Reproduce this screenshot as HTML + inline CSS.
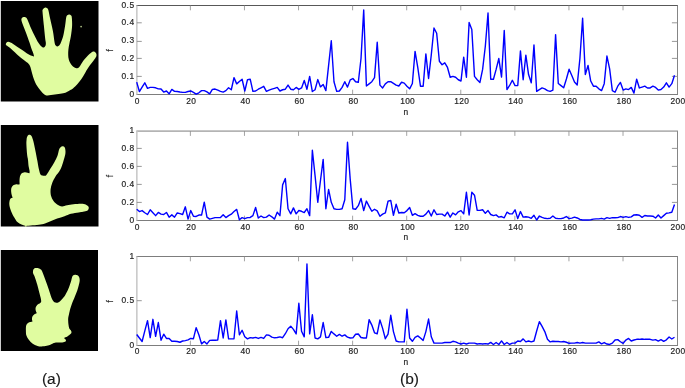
<!DOCTYPE html>
<html><head><meta charset="utf-8"><style>
html,body{margin:0;padding:0;background:#fff;}
body{width:685px;height:388px;overflow:hidden;position:relative;}
svg{position:absolute;left:0;top:0;will-change:transform;}
.t{font-family:"Liberation Sans",sans-serif;font-size:8.4px;fill:#262626;stroke:#262626;stroke-width:0.2px;}
.lab{font-family:"Liberation Sans",sans-serif;font-size:15.5px;fill:#1a1a1a;}
</style></head><body>
<svg width="685" height="388" viewBox="0 0 685 388">
<rect x="0.8" y="1.0" width="97.7" height="100.5" fill="#000"/>
<rect x="0.8" y="125.0" width="97.7" height="101.5" fill="#000"/>
<rect x="0.8" y="250.0" width="97.2" height="101.0" fill="#000"/>
<path d="M5.80,44.30C5.80,43.78 6.20,42.92 6.60,42.50C7.00,42.08 7.55,41.78 8.20,41.80C8.85,41.82 9.62,42.20 10.50,42.60C11.38,43.00 11.82,43.13 13.50,44.20C15.18,45.27 18.12,47.33 20.60,49.00C23.08,50.67 26.42,53.03 28.40,54.20C30.38,55.37 31.57,55.67 32.50,56.00C33.43,56.33 33.95,56.87 34.00,56.20C34.05,55.53 33.20,53.20 32.80,52.00C32.40,50.80 32.15,50.58 31.60,49.00C31.05,47.42 30.47,45.30 29.50,42.50C28.53,39.70 26.95,35.28 25.80,32.20C24.65,29.12 23.32,25.93 22.60,24.00C21.88,22.07 21.67,21.50 21.50,20.60C21.33,19.70 21.27,19.18 21.60,18.60C21.93,18.02 22.80,17.30 23.50,17.10C24.20,16.90 25.17,17.03 25.80,17.40C26.43,17.77 26.33,17.27 27.30,19.30C28.27,21.33 29.92,25.95 31.60,29.60C33.28,33.25 35.75,38.38 37.40,41.20C39.05,44.02 40.43,45.47 41.50,46.50C42.57,47.53 43.12,47.57 43.80,47.40C44.48,47.23 45.27,46.32 45.60,45.50C45.93,44.68 45.87,43.63 45.80,42.50C45.73,41.37 45.52,41.48 45.20,38.70C44.88,35.92 44.33,30.17 43.90,25.80C43.47,21.43 42.78,15.22 42.60,12.50C42.42,9.78 42.43,10.30 42.80,9.50C43.17,8.70 44.07,7.92 44.80,7.70C45.53,7.48 46.60,7.77 47.20,8.20C47.80,8.63 47.88,8.45 48.40,10.30C48.92,12.15 49.55,15.87 50.30,19.30C51.05,22.73 52.18,27.03 52.90,30.90C53.62,34.77 54.12,40.05 54.60,42.50C55.08,44.95 55.32,44.93 55.80,45.60C56.28,46.27 56.90,46.55 57.50,46.50C58.10,46.45 58.85,45.92 59.40,45.30C59.95,44.68 60.17,44.33 60.80,42.80C61.43,41.27 62.48,38.93 63.20,36.10C63.92,33.27 64.60,28.90 65.10,25.80C65.60,22.70 65.83,19.25 66.20,17.50C66.57,15.75 66.80,15.78 67.30,15.30C67.80,14.82 68.57,14.57 69.20,14.60C69.83,14.63 70.67,15.02 71.10,15.50C71.53,15.98 71.63,15.78 71.80,17.50C71.97,19.22 72.25,22.70 72.10,25.80C71.95,28.90 71.35,33.15 70.90,36.10C70.45,39.05 69.82,41.27 69.40,43.50C68.98,45.73 68.60,47.58 68.40,49.50C68.20,51.42 68.13,53.33 68.20,55.00C68.27,56.67 68.33,57.97 68.80,59.50C69.27,61.03 70.05,62.87 71.00,64.20C71.95,65.53 73.53,66.83 74.50,67.50C75.47,68.17 76.00,68.28 76.80,68.20C77.60,68.12 78.18,68.27 79.30,67.00C80.42,65.73 81.93,62.63 83.50,60.60C85.07,58.57 87.20,56.28 88.70,54.80C90.20,53.32 91.52,52.20 92.50,51.70C93.48,51.20 93.98,51.50 94.60,51.80C95.22,52.10 95.90,52.80 96.20,53.50C96.50,54.20 96.68,55.03 96.40,56.00C96.12,56.97 95.78,57.45 94.50,59.30C93.22,61.15 90.32,64.73 88.70,67.10C87.08,69.47 85.98,71.57 84.80,73.50C83.62,75.43 82.78,76.98 81.60,78.70C80.42,80.42 79.10,82.20 77.70,83.80C76.30,85.40 74.48,87.22 73.20,88.30C71.92,89.38 71.13,89.65 70.00,90.30C68.87,90.95 67.77,91.65 66.40,92.20C65.03,92.75 63.73,93.20 61.80,93.60C59.87,94.00 57.18,94.30 54.80,94.60C52.42,94.90 49.23,95.43 47.50,95.40C45.77,95.37 45.60,95.27 44.40,94.40C43.20,93.53 41.67,91.87 40.30,90.20C38.93,88.53 37.37,86.53 36.20,84.40C35.03,82.27 34.07,79.53 33.30,77.40C32.53,75.27 32.08,73.33 31.60,71.60C31.12,69.87 30.95,68.33 30.40,67.00C29.85,65.67 29.28,64.67 28.30,63.60C27.32,62.53 26.42,62.17 24.50,60.60C22.58,59.03 19.30,56.37 16.80,54.20C14.30,52.03 11.20,49.03 9.50,47.60C7.80,46.17 7.22,46.15 6.60,45.60C5.98,45.05 5.80,44.82 5.80,44.30Z" fill="#e0fca0"/>
<path d="M27.10,137.00C27.40,136.25 27.85,135.35 28.40,135.00C28.95,134.65 29.83,134.63 30.40,134.90C30.97,135.17 31.28,135.45 31.80,136.60C32.32,137.75 32.90,139.43 33.50,141.80C34.10,144.17 34.75,147.58 35.40,150.80C36.05,154.02 36.83,158.10 37.40,161.10C37.97,164.10 38.30,166.62 38.80,168.80C39.30,170.98 39.78,173.07 40.40,174.20C41.02,175.33 41.87,175.33 42.50,175.60C43.13,175.87 43.55,175.90 44.20,175.80C44.85,175.70 45.38,176.17 46.40,175.00C47.42,173.83 49.00,170.90 50.30,168.80C51.60,166.70 53.02,164.55 54.20,162.40C55.38,160.25 56.58,158.05 57.40,155.90C58.22,153.75 58.57,150.95 59.10,149.50C59.63,148.05 60.02,147.73 60.60,147.20C61.18,146.67 61.93,146.28 62.60,146.30C63.27,146.32 64.15,146.77 64.60,147.30C65.05,147.83 65.17,148.48 65.30,149.50C65.43,150.52 65.65,151.68 65.40,153.40C65.15,155.12 64.48,157.45 63.80,159.80C63.12,162.15 62.18,165.38 61.30,167.50C60.42,169.62 59.47,171.02 58.50,172.50C57.53,173.98 56.55,174.67 55.50,176.40C54.45,178.13 53.02,180.75 52.20,182.90C51.38,185.05 50.80,187.15 50.60,189.30C50.40,191.45 50.52,193.87 51.00,195.80C51.48,197.73 52.33,199.37 53.50,200.90C54.67,202.43 56.58,204.08 58.00,205.00C59.42,205.92 60.48,206.35 62.00,206.40C63.52,206.45 65.18,205.67 67.10,205.30C69.02,204.93 70.93,204.45 73.50,204.20C76.07,203.95 80.35,203.67 82.50,203.80C84.65,203.93 85.42,204.53 86.40,205.00C87.38,205.47 88.02,206.00 88.40,206.60C88.78,207.20 88.90,207.90 88.70,208.60C88.50,209.30 88.15,210.27 87.20,210.80C86.25,211.33 84.42,211.52 83.00,211.80C81.58,212.08 80.72,212.17 78.70,212.50C76.68,212.83 73.27,213.18 70.90,213.80C68.53,214.42 66.78,215.42 64.50,216.20C62.22,216.98 59.43,217.68 57.20,218.50C54.97,219.32 53.13,220.28 51.10,221.10C49.07,221.92 47.05,222.78 45.00,223.40C42.95,224.02 41.18,224.45 38.80,224.80C36.42,225.15 32.92,225.33 30.70,225.50C28.48,225.67 27.03,225.95 25.50,225.80C23.97,225.65 22.85,225.22 21.50,224.60C20.15,223.98 18.60,223.28 17.40,222.10C16.20,220.92 15.33,219.28 14.30,217.50C13.27,215.72 12.02,213.45 11.20,211.40C10.38,209.35 9.67,206.97 9.40,205.20C9.13,203.43 9.40,201.90 9.60,200.80C9.80,199.70 10.12,199.10 10.60,198.60C11.08,198.10 12.30,198.37 12.50,197.80C12.70,197.23 12.02,196.17 11.80,195.20C11.58,194.23 11.28,193.17 11.20,192.00C11.12,190.83 11.00,189.28 11.30,188.20C11.60,187.12 12.17,186.15 13.00,185.50C13.83,184.85 15.23,184.48 16.30,184.30C17.37,184.12 18.87,184.95 19.40,184.40C19.93,183.85 19.42,182.27 19.50,181.00C19.58,179.73 19.57,178.03 19.90,176.80C20.23,175.57 20.72,174.35 21.50,173.60C22.28,172.85 23.60,172.45 24.60,172.30C25.60,172.15 26.70,172.55 27.50,172.70C28.30,172.85 29.07,173.57 29.40,173.20C29.73,172.83 29.63,171.67 29.50,170.50C29.37,169.33 28.85,167.95 28.60,166.20C28.35,164.45 28.25,161.93 28.00,160.00C27.75,158.07 27.37,157.22 27.10,154.60C26.83,151.98 26.48,146.82 26.40,144.30C26.32,141.78 26.48,140.72 26.60,139.50C26.72,138.28 26.80,137.75 27.10,137.00Z" fill="#e0fca0"/>
<path d="M33.00,271.60C33.05,271.00 33.02,270.18 33.40,269.60C33.78,269.02 34.47,268.33 35.30,268.10C36.13,267.87 37.48,267.95 38.40,268.20C39.32,268.45 40.17,269.03 40.80,269.60C41.43,270.17 41.40,269.77 42.20,271.60C43.00,273.43 44.50,277.60 45.60,280.60C46.70,283.60 47.83,286.80 48.80,289.60C49.77,292.40 50.63,295.47 51.40,297.40C52.17,299.33 52.72,300.33 53.40,301.20C54.08,302.07 54.80,302.35 55.50,302.60C56.20,302.85 56.88,302.88 57.60,302.70C58.32,302.52 59.00,302.17 59.80,301.50C60.60,300.83 61.48,299.80 62.40,298.70C63.32,297.60 64.30,296.57 65.30,294.90C66.30,293.23 67.45,290.93 68.40,288.70C69.35,286.47 70.40,283.35 71.00,281.50C71.60,279.65 71.67,278.58 72.00,277.60C72.33,276.62 72.48,276.08 73.00,275.60C73.52,275.12 74.35,274.77 75.10,274.70C75.85,274.63 76.82,274.78 77.50,275.20C78.18,275.62 78.83,276.32 79.20,277.20C79.57,278.08 79.78,279.10 79.70,280.50C79.62,281.90 79.12,283.88 78.70,285.60C78.28,287.32 77.80,289.08 77.20,290.80C76.60,292.52 75.80,294.18 75.10,295.90C74.40,297.62 73.60,299.58 73.00,301.10C72.40,302.62 71.97,303.68 71.50,305.00C71.03,306.32 70.62,307.45 70.20,309.00C69.78,310.55 69.33,312.80 69.00,314.30C68.67,315.80 68.33,316.85 68.20,318.00C68.07,319.15 68.15,320.07 68.20,321.20C68.25,322.33 68.32,323.60 68.50,324.80C68.68,326.00 68.92,327.48 69.30,328.40C69.68,329.32 70.43,329.67 70.80,330.30C71.17,330.93 71.55,331.57 71.50,332.20C71.45,332.83 71.18,333.40 70.50,334.10C69.82,334.80 68.48,335.75 67.40,336.40C66.32,337.05 64.33,337.53 64.00,338.00C63.67,338.47 65.08,338.70 65.40,339.20C65.72,339.70 66.25,340.48 65.90,341.00C65.55,341.52 64.60,342.03 63.30,342.30C62.00,342.57 59.65,342.50 58.10,342.60C56.55,342.70 55.20,342.60 54.00,342.90C52.80,343.20 52.10,343.93 50.90,344.40C49.70,344.87 48.35,345.37 46.80,345.70C45.25,346.03 43.15,346.37 41.60,346.40C40.05,346.43 39.03,346.40 37.50,345.90C35.97,345.40 33.85,344.43 32.40,343.40C30.95,342.37 29.80,341.00 28.80,339.70C27.80,338.40 26.88,337.13 26.40,335.60C25.92,334.07 25.93,332.17 25.90,330.50C25.87,328.83 25.85,326.85 26.20,325.60C26.55,324.35 27.28,323.58 28.00,323.00C28.72,322.42 29.77,322.33 30.50,322.10C31.23,321.87 32.15,322.03 32.40,321.60C32.65,321.17 32.02,320.30 32.00,319.50C31.98,318.70 31.93,317.65 32.30,316.80C32.67,315.95 33.48,315.00 34.20,314.40C34.92,313.80 36.32,313.77 36.60,313.20C36.88,312.63 36.07,311.88 35.90,311.00C35.73,310.12 35.35,308.93 35.60,307.90C35.85,306.87 36.62,305.63 37.40,304.80C38.18,303.97 39.67,303.50 40.30,302.90C40.93,302.30 41.15,302.10 41.20,301.20C41.25,300.30 40.93,299.00 40.60,297.50C40.27,296.00 39.77,294.37 39.20,292.20C38.63,290.03 37.95,287.07 37.20,284.50C36.45,281.93 35.38,278.68 34.70,276.80C34.02,274.92 33.38,274.07 33.10,273.20C32.82,272.33 32.95,272.20 33.00,271.60Z" fill="#e0fca0"/>
<path d="M24.6,225.2 L27.0,225.2 L26.2,226.8 L25.4,226.8 Z" fill="#e0fca0"/>
<circle cx="81.1" cy="26.6" r="0.9" fill="#aabb82"/>
<line x1="136.35" y1="5.50" x2="678.00" y2="5.50" stroke="#585858" stroke-width="1.00"/>
<line x1="136.35" y1="94.50" x2="678.00" y2="94.50" stroke="#7d7d7d" stroke-width="1"/>
<line x1="136.85" y1="5.50" x2="136.85" y2="94.50" stroke="#c6c6c6" stroke-width="1.5"/>
<line x1="677.50" y1="5.50" x2="677.50" y2="94.50" stroke="#858585" stroke-width="1"/>
<text x="137.25" y="103.95" text-anchor="middle" class="t" letter-spacing="0.3">0</text>
<line x1="190.38" y1="94.50" x2="190.38" y2="89.70" stroke="#8c8c8c" stroke-width="0.8"/>
<line x1="190.38" y1="5.50" x2="190.38" y2="10.30" stroke="#8c8c8c" stroke-width="0.8"/>
<text x="191.33" y="103.95" text-anchor="middle" class="t" letter-spacing="0.3">20</text>
<line x1="244.46" y1="94.50" x2="244.46" y2="89.70" stroke="#8c8c8c" stroke-width="0.8"/>
<line x1="244.46" y1="5.50" x2="244.46" y2="10.30" stroke="#8c8c8c" stroke-width="0.8"/>
<text x="245.41" y="103.95" text-anchor="middle" class="t" letter-spacing="0.3">40</text>
<line x1="298.54" y1="94.50" x2="298.54" y2="89.70" stroke="#8c8c8c" stroke-width="0.8"/>
<line x1="298.54" y1="5.50" x2="298.54" y2="10.30" stroke="#8c8c8c" stroke-width="0.8"/>
<text x="299.49" y="103.95" text-anchor="middle" class="t" letter-spacing="0.3">60</text>
<line x1="352.62" y1="94.50" x2="352.62" y2="89.70" stroke="#8c8c8c" stroke-width="0.8"/>
<line x1="352.62" y1="5.50" x2="352.62" y2="10.30" stroke="#8c8c8c" stroke-width="0.8"/>
<text x="353.57" y="103.95" text-anchor="middle" class="t" letter-spacing="0.3">80</text>
<line x1="406.70" y1="94.50" x2="406.70" y2="89.70" stroke="#8c8c8c" stroke-width="0.8"/>
<line x1="406.70" y1="5.50" x2="406.70" y2="10.30" stroke="#8c8c8c" stroke-width="0.8"/>
<text x="407.65" y="103.95" text-anchor="middle" class="t" letter-spacing="0.3">100</text>
<line x1="460.78" y1="94.50" x2="460.78" y2="89.70" stroke="#8c8c8c" stroke-width="0.8"/>
<line x1="460.78" y1="5.50" x2="460.78" y2="10.30" stroke="#8c8c8c" stroke-width="0.8"/>
<text x="461.73" y="103.95" text-anchor="middle" class="t" letter-spacing="0.3">120</text>
<line x1="514.86" y1="94.50" x2="514.86" y2="89.70" stroke="#8c8c8c" stroke-width="0.8"/>
<line x1="514.86" y1="5.50" x2="514.86" y2="10.30" stroke="#8c8c8c" stroke-width="0.8"/>
<text x="515.81" y="103.95" text-anchor="middle" class="t" letter-spacing="0.3">140</text>
<line x1="568.94" y1="94.50" x2="568.94" y2="89.70" stroke="#8c8c8c" stroke-width="0.8"/>
<line x1="568.94" y1="5.50" x2="568.94" y2="10.30" stroke="#8c8c8c" stroke-width="0.8"/>
<text x="569.89" y="103.95" text-anchor="middle" class="t" letter-spacing="0.3">160</text>
<line x1="623.02" y1="94.50" x2="623.02" y2="89.70" stroke="#8c8c8c" stroke-width="0.8"/>
<line x1="623.02" y1="5.50" x2="623.02" y2="10.30" stroke="#8c8c8c" stroke-width="0.8"/>
<text x="623.97" y="103.95" text-anchor="middle" class="t" letter-spacing="0.3">180</text>
<text x="678.05" y="103.95" text-anchor="middle" class="t" letter-spacing="0.3">200</text>
<text x="134.50" y="97.01" text-anchor="end" class="t" letter-spacing="0.45">0</text>
<line x1="136.85" y1="76.40" x2="141.75" y2="76.40" stroke="#8c8c8c" stroke-width="0.9"/>
<line x1="677.50" y1="76.40" x2="671.90" y2="76.40" stroke="#8c8c8c" stroke-width="0.9"/>
<text x="134.50" y="78.95" text-anchor="end" class="t" letter-spacing="0.45">0.1</text>
<line x1="136.85" y1="58.40" x2="141.75" y2="58.40" stroke="#8c8c8c" stroke-width="0.9"/>
<line x1="677.50" y1="58.40" x2="671.90" y2="58.40" stroke="#8c8c8c" stroke-width="0.9"/>
<text x="134.50" y="61.05" text-anchor="end" class="t" letter-spacing="0.45">0.2</text>
<line x1="136.85" y1="41.40" x2="141.75" y2="41.40" stroke="#8c8c8c" stroke-width="0.9"/>
<line x1="677.50" y1="41.40" x2="671.90" y2="41.40" stroke="#8c8c8c" stroke-width="0.9"/>
<text x="134.50" y="43.30" text-anchor="end" class="t" letter-spacing="0.45">0.3</text>
<line x1="136.85" y1="22.80" x2="141.75" y2="22.80" stroke="#8c8c8c" stroke-width="0.9"/>
<line x1="677.50" y1="22.80" x2="671.90" y2="22.80" stroke="#8c8c8c" stroke-width="0.9"/>
<text x="134.50" y="25.25" text-anchor="end" class="t" letter-spacing="0.45">0.4</text>
<text x="134.50" y="8.01" text-anchor="end" class="t" letter-spacing="0.45">0.5</text>
<text x="405.90" y="114.70" text-anchor="middle" class="t">n</text>
<text x="0" y="0" text-anchor="middle" class="t" transform="translate(113.4,50.30) rotate(-90)" style="font-size:8.5px">f</text>
<polyline points="136.70,82.08 139.40,91.53 142.10,87.07 144.81,82.79 147.51,88.32 150.21,87.42 152.91,87.42 155.62,87.78 158.32,88.85 161.02,89.03 163.72,92.06 166.43,90.99 169.13,93.84 171.83,89.39 174.53,91.35 177.24,91.53 179.94,92.06 182.64,92.42 185.34,92.42 188.05,91.53 190.75,90.99 193.45,92.42 196.16,94.20 198.86,92.77 201.56,90.63 204.26,90.63 206.96,91.88 209.67,93.84 212.37,89.39 215.07,89.03 217.77,90.10 220.48,91.35 223.18,92.06 225.88,90.63 228.58,87.78 231.29,89.74 233.99,77.62 236.69,83.86 239.39,81.54 242.10,79.22 244.80,90.99 247.50,79.58 250.20,79.22 252.91,91.35 255.61,90.99 258.31,89.21 261.01,87.78 263.72,86.35 266.42,91.35 269.12,90.10 271.82,89.21 274.53,88.32 277.23,87.42 279.93,90.99 282.63,89.74 285.34,89.21 288.04,85.11 290.74,89.21 293.44,89.74 296.15,87.42 298.85,89.39 301.55,87.96 304.25,80.47 306.96,89.21 309.66,76.37 312.36,91.53 315.06,89.74 317.77,79.58 320.47,86.89 323.17,84.57 325.88,90.63 328.58,65.67 331.28,40.71 333.98,81.72 336.69,91.35 339.39,90.99 342.09,87.42 344.79,81.72 347.50,87.07 350.20,79.94 352.90,78.51 355.60,81.72 358.31,82.25 361.01,58.54 363.71,10.04 366.41,86.00 369.12,83.86 371.82,81.72 374.52,77.62 377.22,42.31 379.93,85.11 382.63,87.96 385.33,83.86 388.03,81.72 390.74,81.72 393.44,83.32 396.14,85.11 398.84,86.00 401.55,82.25 404.25,83.15 406.95,86.18 409.65,88.85 412.36,83.50 415.06,51.41 417.76,67.45 420.46,86.18 423.17,86.18 425.87,53.90 428.57,78.51 431.27,54.97 433.98,28.05 436.68,33.22 439.38,61.21 442.08,64.78 444.79,62.82 447.49,67.45 450.19,77.26 452.89,76.37 455.60,77.26 458.30,79.76 461.00,81.01 463.70,57.11 466.41,77.26 469.11,22.52 471.81,29.48 474.51,76.37 477.22,79.76 479.92,82.43 482.62,69.42 485.32,46.24 488.02,13.07 490.73,79.22 493.43,79.22 496.13,69.42 498.83,58.54 501.54,77.08 504.24,30.55 506.94,89.56 509.64,85.46 512.35,80.29 515.05,85.64 517.75,85.46 520.45,50.87 523.16,79.76 525.86,55.15 528.56,74.59 531.26,82.79 533.97,44.99 536.67,91.35 539.37,89.56 542.08,87.96 544.78,88.85 547.48,90.63 550.18,91.35 552.88,90.10 555.59,34.65 558.29,83.50 560.99,85.64 563.69,87.78 566.40,79.04 569.10,69.24 571.80,75.48 574.50,82.08 577.21,84.93 579.91,58.54 582.61,18.24 585.32,74.59 588.02,65.49 590.72,81.01 593.42,86.18 596.12,86.18 598.83,88.85 601.53,90.63 604.23,83.68 606.93,56.04 609.64,68.88 612.34,90.63 615.04,92.24 617.75,86.18 620.45,82.43 623.15,90.10 625.85,88.85 628.56,89.56 631.26,87.42 633.96,93.13 636.66,79.22 639.37,87.96 642.07,87.07 644.77,86.18 647.47,87.96 650.17,87.96 652.88,86.18 655.58,87.42 658.28,90.10 660.98,89.56 663.69,87.07 666.39,82.79 669.09,87.07 671.80,83.68 674.50,75.30" fill="none" stroke="#0000ff" stroke-width="1.4" stroke-linejoin="round"/>
<line x1="136.35" y1="131.10" x2="678.00" y2="131.10" stroke="#b4b4b4" stroke-width="1.70"/>
<line x1="136.35" y1="220.50" x2="678.00" y2="220.50" stroke="#7d7d7d" stroke-width="1"/>
<line x1="136.85" y1="131.10" x2="136.85" y2="220.50" stroke="#c6c6c6" stroke-width="1.5"/>
<line x1="677.50" y1="131.10" x2="677.50" y2="220.50" stroke="#858585" stroke-width="1"/>
<text x="137.25" y="229.85" text-anchor="middle" class="t" letter-spacing="0.3">0</text>
<line x1="190.38" y1="220.50" x2="190.38" y2="215.70" stroke="#8c8c8c" stroke-width="0.8"/>
<line x1="190.38" y1="131.10" x2="190.38" y2="135.90" stroke="#8c8c8c" stroke-width="0.8"/>
<text x="191.33" y="229.85" text-anchor="middle" class="t" letter-spacing="0.3">20</text>
<line x1="244.46" y1="220.50" x2="244.46" y2="215.70" stroke="#8c8c8c" stroke-width="0.8"/>
<line x1="244.46" y1="131.10" x2="244.46" y2="135.90" stroke="#8c8c8c" stroke-width="0.8"/>
<text x="245.41" y="229.85" text-anchor="middle" class="t" letter-spacing="0.3">40</text>
<line x1="298.54" y1="220.50" x2="298.54" y2="215.70" stroke="#8c8c8c" stroke-width="0.8"/>
<line x1="298.54" y1="131.10" x2="298.54" y2="135.90" stroke="#8c8c8c" stroke-width="0.8"/>
<text x="299.49" y="229.85" text-anchor="middle" class="t" letter-spacing="0.3">60</text>
<line x1="352.62" y1="220.50" x2="352.62" y2="215.70" stroke="#8c8c8c" stroke-width="0.8"/>
<line x1="352.62" y1="131.10" x2="352.62" y2="135.90" stroke="#8c8c8c" stroke-width="0.8"/>
<text x="353.57" y="229.85" text-anchor="middle" class="t" letter-spacing="0.3">80</text>
<line x1="406.70" y1="220.50" x2="406.70" y2="215.70" stroke="#8c8c8c" stroke-width="0.8"/>
<line x1="406.70" y1="131.10" x2="406.70" y2="135.90" stroke="#8c8c8c" stroke-width="0.8"/>
<text x="407.65" y="229.85" text-anchor="middle" class="t" letter-spacing="0.3">100</text>
<line x1="460.78" y1="220.50" x2="460.78" y2="215.70" stroke="#8c8c8c" stroke-width="0.8"/>
<line x1="460.78" y1="131.10" x2="460.78" y2="135.90" stroke="#8c8c8c" stroke-width="0.8"/>
<text x="461.73" y="229.85" text-anchor="middle" class="t" letter-spacing="0.3">120</text>
<line x1="514.86" y1="220.50" x2="514.86" y2="215.70" stroke="#8c8c8c" stroke-width="0.8"/>
<line x1="514.86" y1="131.10" x2="514.86" y2="135.90" stroke="#8c8c8c" stroke-width="0.8"/>
<text x="515.81" y="229.85" text-anchor="middle" class="t" letter-spacing="0.3">140</text>
<line x1="568.94" y1="220.50" x2="568.94" y2="215.70" stroke="#8c8c8c" stroke-width="0.8"/>
<line x1="568.94" y1="131.10" x2="568.94" y2="135.90" stroke="#8c8c8c" stroke-width="0.8"/>
<text x="569.89" y="229.85" text-anchor="middle" class="t" letter-spacing="0.3">160</text>
<line x1="623.02" y1="220.50" x2="623.02" y2="215.70" stroke="#8c8c8c" stroke-width="0.8"/>
<line x1="623.02" y1="131.10" x2="623.02" y2="135.90" stroke="#8c8c8c" stroke-width="0.8"/>
<text x="623.97" y="229.85" text-anchor="middle" class="t" letter-spacing="0.3">180</text>
<text x="678.05" y="229.85" text-anchor="middle" class="t" letter-spacing="0.3">200</text>
<text x="134.50" y="222.95" text-anchor="end" class="t" letter-spacing="0.45">0</text>
<line x1="136.85" y1="202.40" x2="141.75" y2="202.40" stroke="#8c8c8c" stroke-width="0.9"/>
<line x1="677.50" y1="202.40" x2="671.90" y2="202.40" stroke="#8c8c8c" stroke-width="0.9"/>
<text x="134.50" y="204.80" text-anchor="end" class="t" letter-spacing="0.45">0.2</text>
<line x1="136.85" y1="184.40" x2="141.75" y2="184.40" stroke="#8c8c8c" stroke-width="0.9"/>
<line x1="677.50" y1="184.40" x2="671.90" y2="184.40" stroke="#8c8c8c" stroke-width="0.9"/>
<text x="134.50" y="186.55" text-anchor="end" class="t" letter-spacing="0.45">0.4</text>
<line x1="136.85" y1="166.40" x2="141.75" y2="166.40" stroke="#8c8c8c" stroke-width="0.9"/>
<line x1="677.50" y1="166.40" x2="671.90" y2="166.40" stroke="#8c8c8c" stroke-width="0.9"/>
<text x="134.50" y="168.75" text-anchor="end" class="t" letter-spacing="0.45">0.6</text>
<line x1="136.85" y1="148.40" x2="141.75" y2="148.40" stroke="#8c8c8c" stroke-width="0.9"/>
<line x1="677.50" y1="148.40" x2="671.90" y2="148.40" stroke="#8c8c8c" stroke-width="0.9"/>
<text x="134.50" y="150.65" text-anchor="end" class="t" letter-spacing="0.45">0.8</text>
<text x="134.50" y="133.35" text-anchor="end" class="t" letter-spacing="0.45">1</text>
<text x="405.90" y="240.30" text-anchor="middle" class="t">n</text>
<text x="0" y="0" text-anchor="middle" class="t" transform="translate(113.4,176.10) rotate(-90)" style="font-size:8.5px">f</text>
<polyline points="136.70,209.24 139.40,211.56 142.10,210.58 144.81,212.71 147.51,214.49 150.21,209.78 152.91,212.71 155.62,215.65 158.32,212.45 161.02,214.14 163.72,214.49 166.43,212.45 169.13,217.16 171.83,214.85 174.53,217.16 177.24,212.98 179.94,213.69 182.64,214.49 185.34,206.84 188.05,219.12 190.75,210.58 193.45,216.27 196.16,216.45 198.86,215.03 201.56,215.03 204.26,202.21 206.96,217.16 209.67,219.12 212.37,218.32 215.07,217.61 217.77,217.61 220.48,217.61 223.18,214.85 225.88,217.61 228.58,215.65 231.29,214.14 233.99,211.56 236.69,209.42 239.39,219.74 242.10,217.61 244.80,218.59 247.50,217.61 250.20,217.43 252.91,215.65 255.61,207.46 258.31,217.96 261.01,216.01 263.72,217.61 266.42,217.16 269.12,215.03 271.82,216.81 274.53,219.12 277.23,212.18 279.93,215.65 282.63,184.86 285.34,178.54 288.04,208.71 290.74,213.87 293.44,207.91 296.15,213.87 298.85,210.49 301.55,211.29 304.25,212.53 306.96,208.71 309.66,215.65 312.36,150.23 315.06,175.60 317.77,202.30 320.47,180.50 323.17,159.40 325.88,208.71 328.58,189.48 331.28,202.30 333.98,208.71 336.69,209.42 339.39,209.42 342.09,208.71 344.79,199.72 347.50,142.31 350.20,179.16 352.90,208.71 355.60,209.24 358.31,205.68 361.01,198.47 363.71,210.58 366.41,201.05 369.12,206.31 371.82,211.29 374.52,209.24 377.22,210.93 379.93,216.27 382.63,214.14 385.33,212.98 388.03,201.23 390.74,200.43 393.44,215.29 396.14,204.26 398.84,212.98 401.55,212.45 404.25,212.71 406.95,210.58 409.65,207.46 412.36,215.29 415.06,213.69 417.76,215.29 420.46,216.27 423.17,216.27 425.87,214.14 428.57,210.58 431.27,216.01 433.98,209.78 436.68,214.49 439.38,214.14 442.08,214.14 444.79,216.01 447.49,212.18 450.19,217.16 452.89,212.98 455.60,214.85 458.30,211.82 461.00,210.58 463.70,213.87 466.41,192.24 469.11,215.03 471.81,192.24 474.51,195.18 477.22,210.40 479.92,210.40 482.62,209.78 485.32,213.34 488.02,210.58 490.73,214.49 493.43,215.65 496.13,214.85 498.83,217.16 501.54,216.54 504.24,217.79 506.94,212.18 509.64,213.87 512.35,213.87 515.05,209.78 517.75,218.59 520.45,211.56 523.16,217.16 525.86,216.81 528.56,217.16 531.26,218.32 533.97,215.29 536.67,220.01 539.37,216.01 542.08,217.43 544.78,218.32 547.48,218.59 550.18,218.32 552.88,216.01 555.59,218.32 558.29,218.59 560.99,218.59 563.69,217.96 566.40,216.54 569.10,218.59 571.80,218.14 574.50,217.16 577.21,217.96 579.91,219.48 582.61,220.01 585.32,220.01 588.02,220.01 590.72,219.74 593.42,219.12 596.12,218.85 598.83,218.85 601.53,218.32 604.23,219.12 606.93,217.61 609.64,218.32 612.34,217.61 615.04,217.79 617.75,217.61 620.45,216.54 623.15,217.34 625.85,216.63 628.56,217.43 631.26,216.81 633.96,214.94 636.66,214.76 639.37,215.20 642.07,217.34 644.77,215.47 647.47,216.01 650.17,216.01 652.88,216.18 655.58,217.96 658.28,215.03 660.98,217.96 663.69,215.65 666.39,213.25 669.09,212.89 671.80,212.27 674.50,204.44" fill="none" stroke="#0000ff" stroke-width="1.4" stroke-linejoin="round"/>
<line x1="136.35" y1="256.50" x2="678.00" y2="256.50" stroke="#7d7d7d" stroke-width="1.00"/>
<line x1="136.35" y1="345.50" x2="678.00" y2="345.50" stroke="#7d7d7d" stroke-width="1"/>
<line x1="136.85" y1="256.50" x2="136.85" y2="345.50" stroke="#c6c6c6" stroke-width="1.5"/>
<line x1="677.50" y1="256.50" x2="677.50" y2="345.50" stroke="#858585" stroke-width="1"/>
<text x="137.25" y="354.45" text-anchor="middle" class="t" letter-spacing="0.3">0</text>
<line x1="190.38" y1="345.50" x2="190.38" y2="340.70" stroke="#8c8c8c" stroke-width="0.8"/>
<line x1="190.38" y1="256.50" x2="190.38" y2="261.30" stroke="#8c8c8c" stroke-width="0.8"/>
<text x="191.33" y="354.45" text-anchor="middle" class="t" letter-spacing="0.3">20</text>
<line x1="244.46" y1="345.50" x2="244.46" y2="340.70" stroke="#8c8c8c" stroke-width="0.8"/>
<line x1="244.46" y1="256.50" x2="244.46" y2="261.30" stroke="#8c8c8c" stroke-width="0.8"/>
<text x="245.41" y="354.45" text-anchor="middle" class="t" letter-spacing="0.3">40</text>
<line x1="298.54" y1="345.50" x2="298.54" y2="340.70" stroke="#8c8c8c" stroke-width="0.8"/>
<line x1="298.54" y1="256.50" x2="298.54" y2="261.30" stroke="#8c8c8c" stroke-width="0.8"/>
<text x="299.49" y="354.45" text-anchor="middle" class="t" letter-spacing="0.3">60</text>
<line x1="352.62" y1="345.50" x2="352.62" y2="340.70" stroke="#8c8c8c" stroke-width="0.8"/>
<line x1="352.62" y1="256.50" x2="352.62" y2="261.30" stroke="#8c8c8c" stroke-width="0.8"/>
<text x="353.57" y="354.45" text-anchor="middle" class="t" letter-spacing="0.3">80</text>
<line x1="406.70" y1="345.50" x2="406.70" y2="340.70" stroke="#8c8c8c" stroke-width="0.8"/>
<line x1="406.70" y1="256.50" x2="406.70" y2="261.30" stroke="#8c8c8c" stroke-width="0.8"/>
<text x="407.65" y="354.45" text-anchor="middle" class="t" letter-spacing="0.3">100</text>
<line x1="460.78" y1="345.50" x2="460.78" y2="340.70" stroke="#8c8c8c" stroke-width="0.8"/>
<line x1="460.78" y1="256.50" x2="460.78" y2="261.30" stroke="#8c8c8c" stroke-width="0.8"/>
<text x="461.73" y="354.45" text-anchor="middle" class="t" letter-spacing="0.3">120</text>
<line x1="514.86" y1="345.50" x2="514.86" y2="340.70" stroke="#8c8c8c" stroke-width="0.8"/>
<line x1="514.86" y1="256.50" x2="514.86" y2="261.30" stroke="#8c8c8c" stroke-width="0.8"/>
<text x="515.81" y="354.45" text-anchor="middle" class="t" letter-spacing="0.3">140</text>
<line x1="568.94" y1="345.50" x2="568.94" y2="340.70" stroke="#8c8c8c" stroke-width="0.8"/>
<line x1="568.94" y1="256.50" x2="568.94" y2="261.30" stroke="#8c8c8c" stroke-width="0.8"/>
<text x="569.89" y="354.45" text-anchor="middle" class="t" letter-spacing="0.3">160</text>
<line x1="623.02" y1="345.50" x2="623.02" y2="340.70" stroke="#8c8c8c" stroke-width="0.8"/>
<line x1="623.02" y1="256.50" x2="623.02" y2="261.30" stroke="#8c8c8c" stroke-width="0.8"/>
<text x="623.97" y="354.45" text-anchor="middle" class="t" letter-spacing="0.3">180</text>
<text x="678.05" y="354.45" text-anchor="middle" class="t" letter-spacing="0.3">200</text>
<text x="134.50" y="347.60" text-anchor="end" class="t" letter-spacing="0.45">0</text>
<line x1="136.85" y1="300.70" x2="141.75" y2="300.70" stroke="#8c8c8c" stroke-width="0.9"/>
<line x1="677.50" y1="300.70" x2="671.90" y2="300.70" stroke="#8c8c8c" stroke-width="0.9"/>
<text x="134.50" y="303.01" text-anchor="end" class="t" letter-spacing="0.45">0.5</text>
<text x="134.50" y="258.95" text-anchor="end" class="t" letter-spacing="0.45">1</text>
<text x="405.90" y="365.00" text-anchor="middle" class="t">n</text>
<text x="0" y="0" text-anchor="middle" class="t" transform="translate(113.4,301.30) rotate(-90)" style="font-size:8.5px">f</text>
<polyline points="136.70,334.52 139.40,337.99 142.10,341.46 144.81,330.88 147.51,320.65 150.21,337.63 152.91,319.32 155.62,336.30 158.32,322.52 161.02,340.21 163.72,334.17 166.43,338.43 169.13,338.43 171.83,341.28 174.53,341.28 177.24,341.46 179.94,342.26 182.64,341.01 185.34,340.57 188.05,339.94 190.75,338.43 193.45,338.70 196.16,327.68 198.86,334.79 201.56,343.86 204.26,341.46 206.96,343.94 209.67,340.39 212.37,340.21 215.07,340.21 217.77,339.94 220.48,320.65 223.18,337.99 225.88,319.94 228.58,338.88 231.29,338.88 233.99,338.70 236.69,310.96 239.39,334.79 242.10,330.25 244.80,336.74 247.50,338.88 250.20,337.63 252.91,337.99 255.61,337.37 258.31,338.43 261.01,337.37 263.72,338.43 266.42,334.88 269.12,335.23 271.82,337.19 274.53,337.81 277.23,337.54 279.93,336.92 282.63,337.72 285.34,333.72 288.04,328.74 290.74,326.16 293.44,329.36 296.15,333.90 298.85,303.32 301.55,331.23 304.25,336.83 306.96,264.02 309.66,333.90 312.36,314.79 315.06,337.99 317.77,338.88 320.47,336.83 323.17,322.52 325.88,337.54 328.58,337.37 331.28,331.41 333.98,333.90 336.69,336.21 339.39,334.43 342.09,336.21 344.79,334.88 347.50,337.19 350.20,337.99 352.90,337.81 355.60,334.25 358.31,333.99 361.01,337.54 363.71,337.99 366.41,337.99 369.12,319.59 371.82,325.10 374.52,332.83 377.22,333.72 379.93,319.94 382.63,328.39 385.33,338.70 388.03,334.17 390.74,315.23 393.44,331.59 396.14,341.01 398.84,341.90 401.55,341.90 404.25,341.90 406.95,309.27 409.65,337.99 412.36,341.28 415.06,337.37 417.76,335.85 420.46,337.99 423.17,340.39 425.87,331.59 428.57,319.05 431.27,336.74 433.98,343.14 436.68,343.14 439.38,343.14 442.08,343.14 444.79,342.52 447.49,342.52 450.19,342.52 452.89,341.28 455.60,341.90 458.30,343.14 461.00,344.03 463.70,343.14 466.41,344.03 469.11,343.14 471.81,343.14 474.51,343.14 477.22,344.03 479.92,343.59 482.62,344.03 485.32,343.59 488.02,344.03 490.73,342.43 493.43,344.48 496.13,342.52 498.83,344.48 501.54,340.92 504.24,344.48 506.94,342.52 509.64,344.48 512.35,343.14 515.05,343.14 517.75,341.01 520.45,341.46 523.16,338.88 525.86,341.90 528.56,341.01 531.26,341.90 533.97,341.01 536.67,330.96 539.37,321.63 542.08,326.43 544.78,331.59 547.48,339.32 550.18,341.90 552.88,341.28 555.59,341.46 558.29,341.46 560.99,341.90 563.69,341.46 566.40,342.26 569.10,343.32 571.80,343.14 574.50,343.14 577.21,342.52 579.91,343.14 582.61,342.52 585.32,343.14 588.02,343.14 590.72,343.14 593.42,343.14 596.12,343.14 598.83,341.90 601.53,343.86 604.23,342.52 606.93,344.03 609.64,344.48 612.34,343.14 615.04,339.94 617.75,339.59 620.45,341.72 623.15,343.41 625.85,340.03 628.56,338.43 631.26,341.01 633.96,340.03 636.66,339.32 639.37,339.32 642.07,338.97 644.77,339.32 647.47,339.32 650.17,339.32 652.88,340.12 655.58,339.68 658.28,341.01 660.98,339.68 663.69,341.28 666.39,339.85 669.09,337.01 671.80,338.97 674.50,337.28" fill="none" stroke="#0000ff" stroke-width="1.4" stroke-linejoin="round"/>
<text x="51.4" y="384.3" text-anchor="middle" class="lab" stroke="#1a1a1a" stroke-width="0.15">(a)</text>
<text x="409.5" y="384.3" text-anchor="middle" class="lab" stroke="#1a1a1a" stroke-width="0.15">(b)</text>
</svg>
</body></html>
